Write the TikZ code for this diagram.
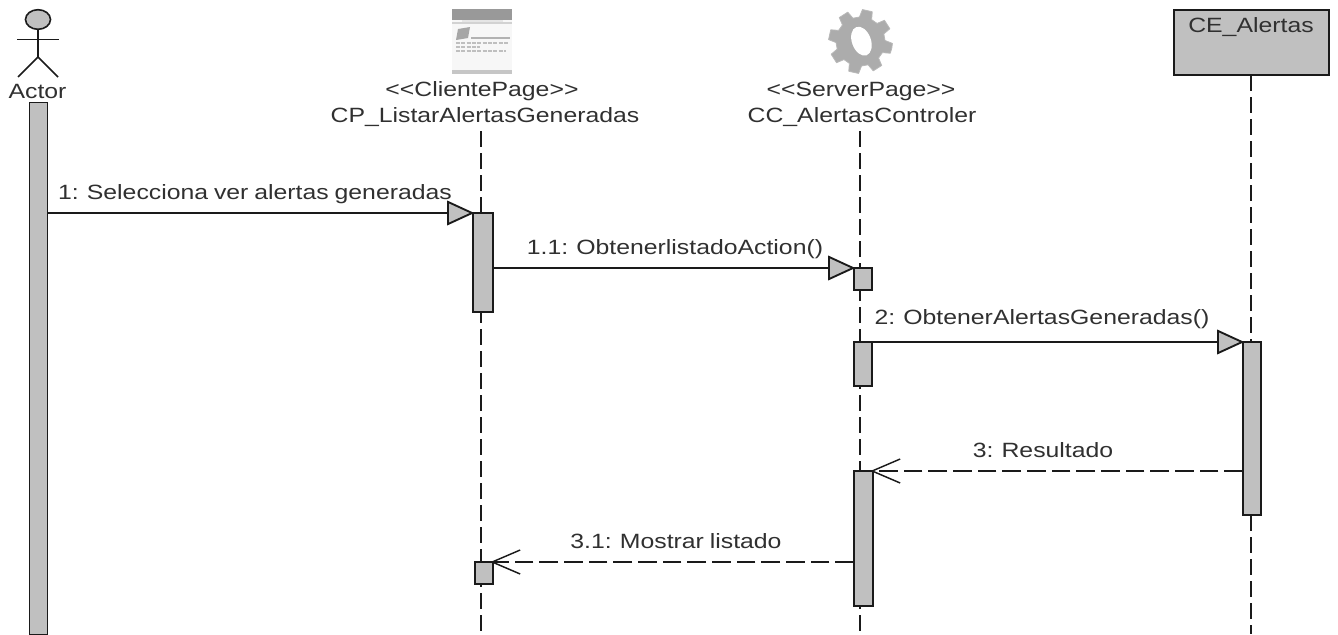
\documentclass[tikz,border=0pt]{standalone}
\usepackage{fontspec}
\setmainfont[FakeStretch=1.2,WordSpace=0.85]{Liberation Sans}
\usetikzlibrary{arrows.meta,calc}
\definecolor{umlgray}{HTML}{C0C0C0}
\definecolor{inkc}{HTML}{1A1A1A}
\definecolor{txtc}{HTML}{303030}
\tikzset{
  px/.style={x=0.75pt,y=-0.75pt},
  lbl/.style={inner sep=0pt,text=txtc,font=\fontsize{15.5pt}{18pt}\selectfont,anchor=center},
  lifeline/.style={draw=inkc,line width=1.4pt,dash pattern=on 12pt off 4.5pt},
  actbar/.style={draw=inkc,line width=1.4pt,fill=umlgray,inner sep=0pt,outer sep=0pt,minimum width=#1*0.75pt,anchor=north west},
  msg/.style={draw=inkc,line width=1.1pt,shorten >=-1pt,-{Triangle[length=20.5pt,width=18.5pt,fill=umlgray,line width=1.4pt]}},
  ret/.style={draw=inkc,line width=1.1pt,shorten >=-2pt,dash pattern=on 14pt off 4.5pt,-{Straight Barb[length=21pt,width=18pt,line width=1.1pt]}},
  figline/.style={draw=inkc,line width=1.2pt}
}
\begin{document}
\begin{tikzpicture}[px]
\useasboundingbox (0,0) rectangle (1338,635);
% actor
\fill[umlgray,draw=inkc,line width=1.2pt] (38,19.5) ellipse (12.5 and 9.8);
\node[inner sep=0pt,outer sep=0pt,minimum width=18.7pt,minimum height=14.7pt] (head) at (38,19.5) {};
\coordinate (hip) at (38,57);
\coordinate (armL) at (17,39.5);
\coordinate (armR) at (59,39.5);
\coordinate (legL) at (18,77);
\coordinate (legR) at (58,77);
\draw[figline] (head.south) -- (hip);
\draw[figline] (armL) -- (armR);
\draw[figline] (legL) -- (hip) -- (legR);
\node[lbl] (actorlbl) at (37.5,91) {Actor};
% client page icon
\fill[white!97!black] (452,9) rectangle (512,74);
\fill[gray!80] (452,9) rectangle (512,20);
\draw[white!90!black,line width=1pt] (462,21) -- (503,21);
\fill[gray!45] (452,70) rectangle (512,74);
\fill[gray!35] (452,22) rectangle (512,24);
\fill[gray!70] (458,29) -- (470,27) -- (468,38) -- (456,40) -- cycle;
\draw[gray!60,line width=0.8pt] (471,38) -- (510,38);
\draw[gray!50,line width=1.2pt,dash pattern=on 3pt off 1pt] (456,43) -- (509,43);
\draw[gray!50,line width=1.2pt,dash pattern=on 3pt off 1pt] (456,47) -- (480,47);
\draw[gray!50,line width=1.2pt,dash pattern=on 3pt off 1pt] (456,51) -- (506,51);
% gear
\begin{scope}[shift={(860.5,41.5)}]
\fill[gray!65!white,draw=gray!55!white,line width=0.6pt,line join=round]
  (12.5:32) \foreach \a in {0,45,...,315}{
    -- (\a+21.5:32) -- (\a+27:24.5) -- (\a+42.5:24.5) -- (\a+48.5:32)
  } -- cycle;
\fill[white,rotate=20] (1,0) ellipse (9.5 and 15);
\end{scope}
\node[lbl] (cpst) at (482,91) {<{}<ClientePage>{}>};
\node[lbl] (cpname) at (485,117.5) {CP\_ListarAlertasGeneradas};
\node[lbl] (ccst) at (861,91) {<{}<ServerPage>{}>};
\node[lbl] (ccname) at (862,117.5) {CC\_AlertasControler};
% CE box
\node[draw=inkc,line width=1.4pt,fill=umlgray,minimum width=116.25pt,minimum height=48.75pt,inner sep=0pt,outer sep=0pt,anchor=north west] (cebox) at (1174,10) {};
\node[lbl] (celbl) at (1251,27.5) {CE\_Alertas};
% lifeline ends
\coordinate (cpTop) at (481,131);
\coordinate (cpEnd) at (481,634);
\coordinate (ccTop) at (860,131);
\coordinate (ccEnd) at (860,634);
\coordinate (ceEnd) at (1251,634);
\draw[lifeline] (cpTop) -- (cpEnd);
\draw[lifeline] (ccTop) -- (ccEnd);
\draw[lifeline] (cebox.south -| ceEnd) -- (ceEnd);
% activations
\node[actbar=18,minimum height=399pt] (aA) at (29.5,102.5) {};
\node[actbar=20,minimum height=74.25pt] (aP1) at (473,213) {};
\node[actbar=18,minimum height=16.5pt] (aP2) at (475,562) {};
\node[actbar=18,minimum height=16.5pt] (aC1) at (854,268) {};
\node[actbar=18,minimum height=33pt] (aC2) at (854,342) {};
\node[actbar=19,minimum height=101pt] (aC3) at (854,471) {};
\node[actbar=18,minimum height=129.75pt] (aE) at (1243,342) {};
% messages
\draw[msg] (aA.east |- aP1.north west) -- (aP1.north west);
\draw[msg] (aP1.east |- aC1.north west) -- (aC1.north west);
\draw[msg] (aC2.north east) -- (aE.north west);
\draw[ret] (aE.west |- aC3.north east) -- (aC3.north east);
\draw[ret] (aC3.west |- aP2.north east) -- (aP2.north east);
% labels
\node[lbl] (m1) at (255,194) {1: Selecciona ver alertas generadas};
\node[lbl] (m2) at (675,249) {1.1: ObtenerlistadoAction()};
\node[lbl] (m3) at (1042,319) {2: ObtenerAlertasGeneradas()};
\node[lbl] (m4) at (1043,450) {3: Resultado};
\node[lbl] (m5) at (676,541) {3.1: Mostrar listado};
\end{tikzpicture}
\end{document}
